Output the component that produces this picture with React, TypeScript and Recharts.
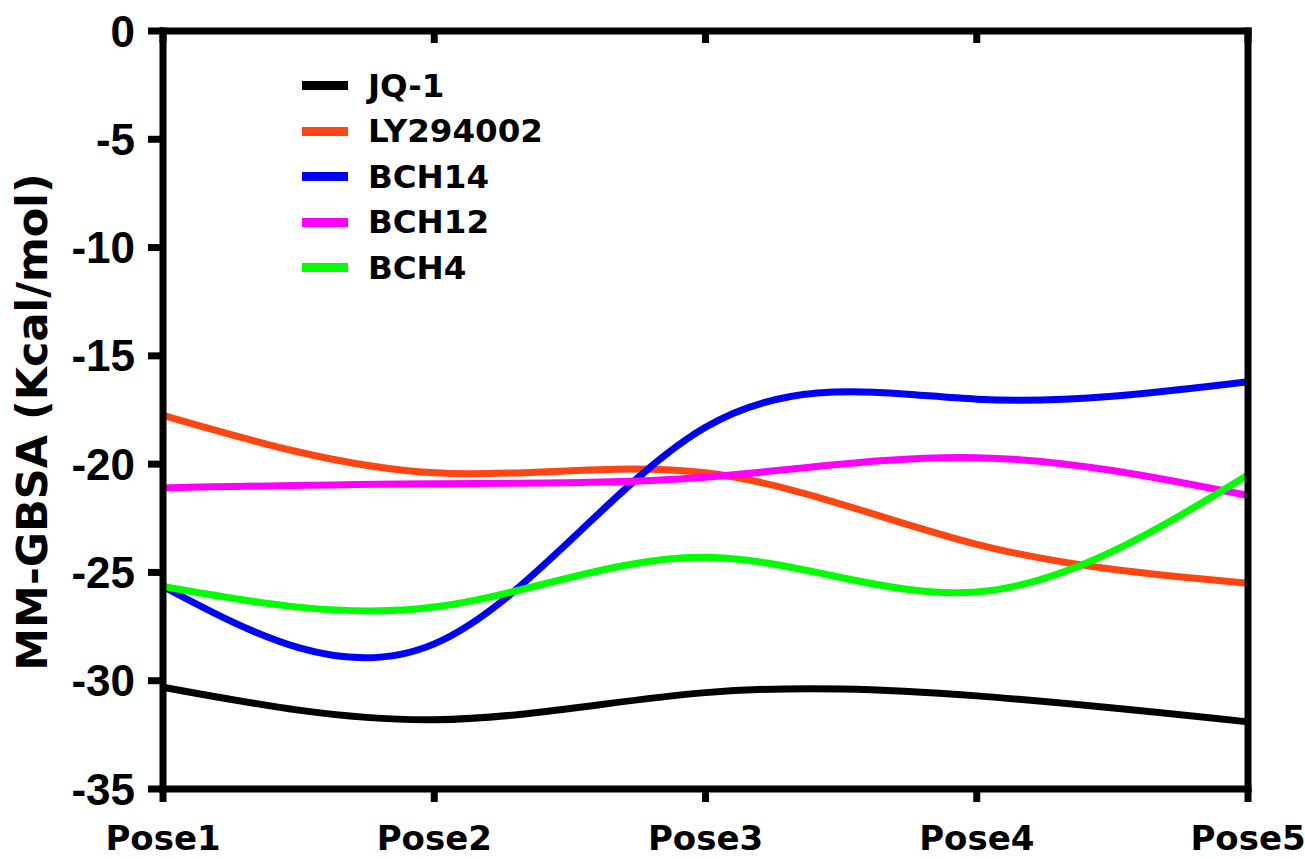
import React from "react"
import { LineChart, Line, XAxis, YAxis, Legend } from "recharts"

const poses = ["Pose1", "Pose2", "Pose3", "Pose4", "Pose5"]

const jq1 = [-30.3, -31.8, -30.55, -30.7, -31.9]
const ly294002 = [-17.75, -20.4, -20.4, -23.7, -25.5]
const bch14 = [-25.65, -28.3, -18.3, -17.0, -16.2]
const bch12 = [-21.1, -20.9, -20.6, -19.7, -21.45]
const bch4 = [-25.65, -26.6, -24.3, -25.9, -20.5]

const yTicks = [0, -5, -10, -15, -20, -25, -30, -35]

const series = [
  { key: "JQ-1", values: jq1, color: "#000000" },
  { key: "LY294002", values: ly294002, color: "#ff4512" },
  { key: "BCH14", values: bch14, color: "#0000ff" },
  { key: "BCH12", values: bch12, color: "#ff00ff" },
  { key: "BCH4", values: bch4, color: "#00ff00" },
]

const data = poses.map((pose, i) => {
  const row: Record<string, string | number> = { pose }
  series.forEach((s) => {
    row[s.key] = s.values[i]
  })
  return row
})

const dejavu = "'DejaVu Sans', sans-serif"
const axisLine = { stroke: "#000", strokeWidth: 7, strokeLinecap: "square" as const }
const tickLine = { stroke: "#000", strokeWidth: 7 }

function LegendBox() {
  return (
    <div style={{ fontFamily: dejavu, fontWeight: "bold", fontSize: 32.5, color: "#000" }}>
      {series.map((s) => (
        <div key={s.key} style={{ display: "flex", alignItems: "center", height: 45.5 }}>
          <span style={{ display: "inline-block", width: 46, height: 9, background: s.color, marginRight: 20 }} />
          <span style={{ lineHeight: 1 }}>{s.key}</span>
        </div>
      ))}
    </div>
  )
}

function YLabel() {
  return (
    <text
      x={47}
      y={422}
      transform="rotate(-90, 47, 422)"
      textAnchor="middle"
      fontFamily={dejavu}
      fontWeight="bold"
      fontSize={43}
      fill="#000"
    >
      MM-GBSA (Kcal/mol)
    </text>
  )
}

export default function App() {
  return (
    <div style={{ position: "absolute", left: 0, top: 0, background: "#fff" }}>
      <LineChart width={1305} height={859} data={data} margin={{ top: 31, right: 56, bottom: 0, left: 0 }}>
        <XAxis
          dataKey="pose"
          height={70}
          axisLine={axisLine}
          tickLine={tickLine}
          tickSize={13}
          tickMargin={24}
          tick={{ fill: "#000", fontSize: 34, fontWeight: "bold", fontFamily: dejavu }}
          interval={0}
        />
        {/* top frame edge with inward ticks */}
        <XAxis
          xAxisId="top"
          dataKey="pose"
          orientation="top"
          height={1}
          mirror
          axisLine={axisLine}
          tickLine={tickLine}
          tickSize={12}
          tick={() => <g />}
          interval={0}
        />
        <YAxis
          width={163}
          domain={[-35, 0]}
          ticks={yTicks}
          axisLine={axisLine}
          tickLine={tickLine}
          tickSize={15}
          tickMargin={13}
          interval={0}
          tick={{ fill: "#000", fontSize: 44, fontWeight: "bold", fontFamily: "'Liberation Sans', Arial, sans-serif" }}
          label={{ content: () => <YLabel /> }}
        />
        {/* right frame edge */}
        <YAxis
          yAxisId="right"
          orientation="right"
          width={1}
          domain={[-35, 0]}
          ticks={yTicks}
          axisLine={axisLine}
          tickLine={false}
          tick={() => <g />}
        />
        <Legend
          layout="vertical"
          align="center"
          verticalAlign="middle"
          wrapperStyle={{ left: 302, top: 63, width: 300 }}
          content={() => <LegendBox />}
        />
        {series.map((s) => (
          <Line
            key={s.key}
            type="natural"
            dataKey={s.key}
            stroke={s.color}
            strokeWidth={7}
            dot={false}
            isAnimationActive={false}
          />
        ))}
      </LineChart>
    </div>
  )
}
